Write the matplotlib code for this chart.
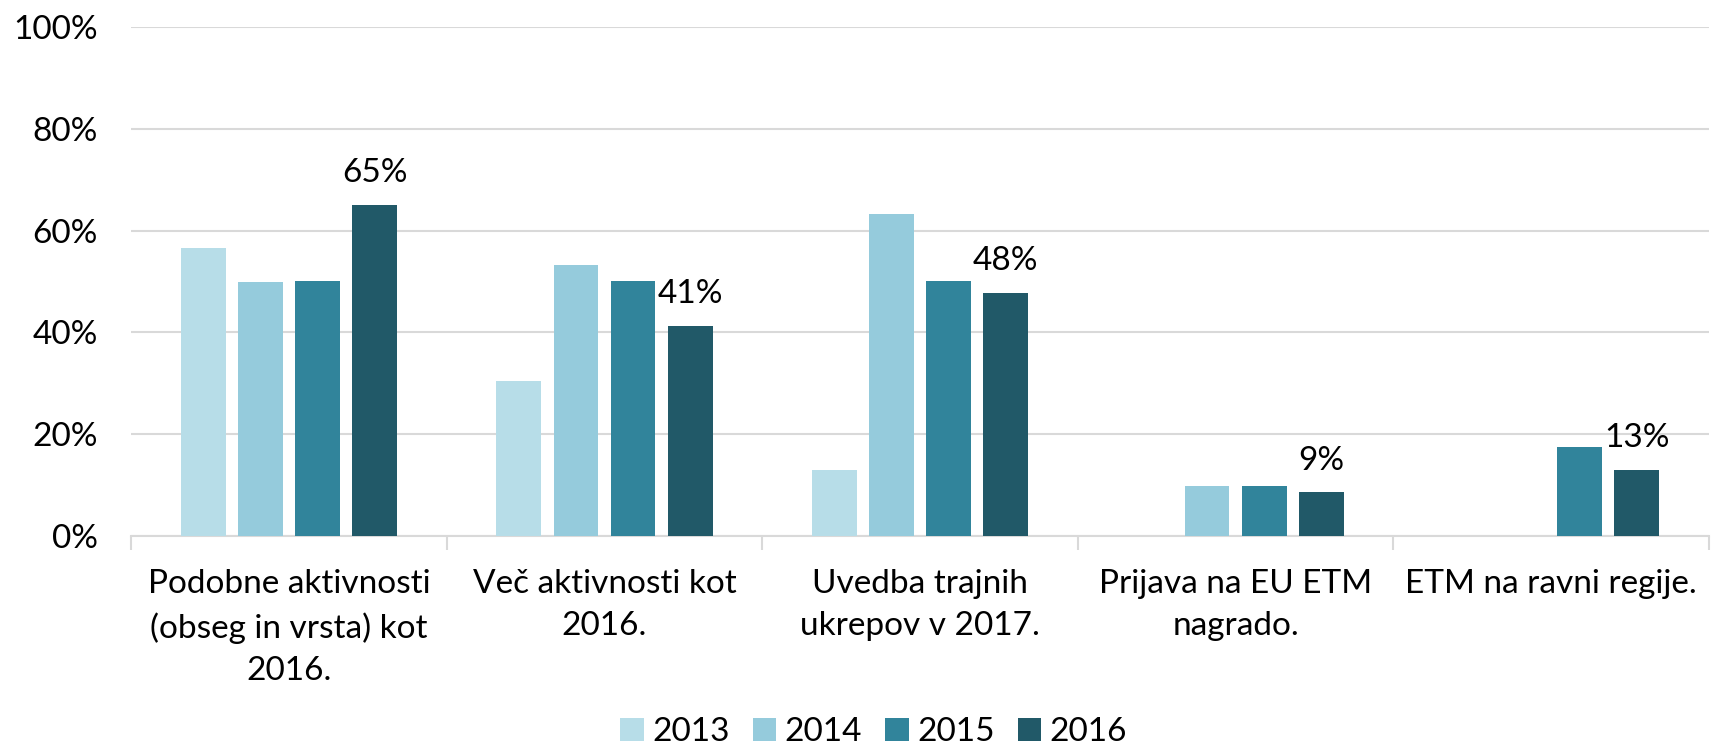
import matplotlib.pyplot as plt
import numpy as np

# data
categories = ["Podobne aktivnosti\n(obseg in vrsta) kot\n2016.",
              "Več aktivnosti kot\n2016.",
              "Uvedba trajnih\nukrepov v 2017.",
              "Prijava na EU ETM\nnagrado.",
              "ETM na ravni regije."]
years = ["2013", "2014", "2015", "2016"]
v2013 = [56.5, 30.4, 13.0, 0, 0]
v2014 = [49.9, 53.3, 63.3, 9.9, 0]
v2015 = [50.0, 50.0, 50.0, 9.9, 17.5]
v2016 = [65.1, 41.3, 47.8, 8.6, 13.0]
colors = ["#B7DDE8", "#95CBDC", "#31849B", "#215968"]

plt.rcParams['font.family'] = ['Lato', 'DejaVu Sans']
fs = 24

fig = plt.figure(figsize=(17.13, 7.45), dpi=100)
ax = fig.add_axes([0.0766, 0.2805, 0.921, 0.6835])

x = np.arange(len(categories))
series = [v2013, v2014, v2015, v2016]
w = 0.142
step = 0.181
for i, (vals, c, yr) in enumerate(zip(series, colors, years)):
    vals = np.array(vals) / 100
    pos = x + (i - 1.5) * step
    mask = vals > 0
    bars = ax.bar(pos[mask], vals[mask], w, color=c, label=yr, zorder=3)
    if yr == "2016":
        for b, v in zip(bars, vals[mask]):
            ax.text(b.get_x() + b.get_width() / 2, v + 0.062, f"{round(v*100):.0f}%",
                    ha='center', va='center', fontsize=fs, color='black')

ax.set_xlim(-0.5, len(categories) - 0.5)
ax.set_ylim(0, 1)
ax.set_yticks(np.arange(0, 1.01, 0.2))
ax.set_yticklabels([f"{int(t*100)}%" for t in np.arange(0, 1.01, 0.2)])
ax.yaxis.grid(True, color='#D9D9D9', lw=1.5, zorder=0)
ax.tick_params(axis='y', length=0, labelsize=fs, pad=24)

ax.set_xticks(x)
ax.set_xticklabels(categories, fontsize=fs, linespacing=1.5, va='top')
ax.set_xticks(np.arange(-0.5, len(categories)), minor=True)
ax.tick_params(axis='x', which='major', length=0, pad=24)
ax.tick_params(axis='x', which='minor', length=10, width=1.5, color='#D9D9D9')

for s in ['top', 'right', 'left']:
    ax.spines[s].set_visible(False)
ax.spines['bottom'].set_color('#D9D9D9')
ax.spines['bottom'].set_linewidth(1.5)

fig.legend(loc='center', bbox_to_anchor=(0.51, 0.017), ncol=4, frameon=False,
           fontsize=fs, handlelength=0.7, handleheight=0.7, handletextpad=0.25,
           columnspacing=0.7)

fig.savefig("out.png", dpi=100)
